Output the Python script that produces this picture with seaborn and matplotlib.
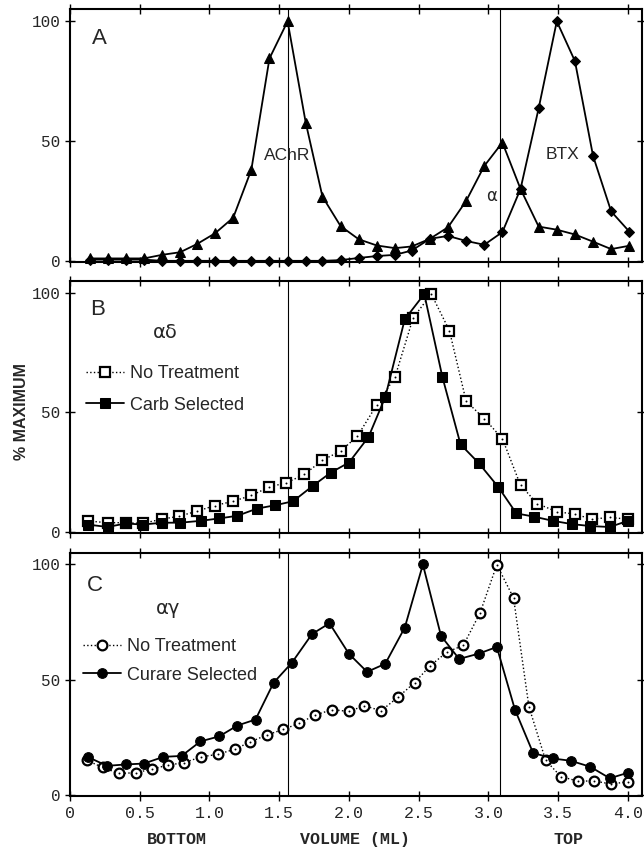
import seaborn as sns
import matplotlib.pyplot as plt

sns.set_style("white")
plt.rcParams['font.family'] = ['Liberation Sans', 'DejaVu Sans']

# panel A: AChR (triangles) and BTX (diamonds)
x_a = [0.14, 0.27, 0.40, 0.53, 0.66, 0.79, 0.91, 1.04, 1.17, 1.30, 1.43, 1.56, 1.69, 1.81, 1.94, 2.07,
       2.20, 2.33, 2.45, 2.58, 2.71, 2.84, 2.97, 3.10, 3.23, 3.36, 3.49, 3.62, 3.75, 3.88, 4.01]
achr = [1, 1, 1, 1, 2.5, 3.6, 7, 11.5, 18, 38, 84.5, 100, 57.7, 26.8, 14.5, 9,
        6.4, 5.3, 6, 9.2, 14, 25, 39.6, 49.4, 30, 14.3, 13, 11, 8, 4.9, 6.3]
btx = [0.5, 0.5, 0.5, 0.5, 0, 0, 0, 0, 0, 0, 0, 0, 0, 0, 0.3, 1.2,
       2, 2.5, 4.3, 9.2, 10.4, 8.3, 6.7, 12, 30, 63.7, 100, 83.4, 43.8, 20.6, 12.2]

# panel B: alpha-delta
x_b_nt = [0.13, 0.27, 0.40, 0.52, 0.66, 0.78, 0.91, 1.04, 1.17, 1.30, 1.43, 1.55, 1.68, 1.81, 1.94, 2.06,
          2.20, 2.33, 2.46, 2.59, 2.72, 2.84, 2.97, 3.10, 3.23, 3.35, 3.49, 3.62, 3.74, 3.87, 4.00]
b_nt = [4.5, 3.8, 3.8, 3.5, 5.3, 6.5, 8.6, 11, 12.8, 15.2, 18.8, 20.5, 24, 30, 33.8, 40,
        53.2, 64.8, 89.6, 99.6, 84.3, 54.7, 47.4, 39, 19.5, 11.8, 8.4, 7.4, 5.3, 6, 5.3]
x_b_carb = [0.13, 0.27, 0.40, 0.52, 0.66, 0.79, 0.94, 1.07, 1.20, 1.34, 1.47, 1.60, 1.74, 1.87, 2.00,
            2.14, 2.26, 2.40, 2.54, 2.67, 2.80, 2.93, 3.07, 3.20, 3.33, 3.46, 3.60, 3.73, 3.87, 4.00]
b_carb = [3, 2, 3.5, 3, 3.8, 3.8, 4.6, 5.6, 6.7, 9.7, 11.1, 12.8, 19.2, 24.8, 29,
          39.7, 56.4, 89, 99.6, 64.8, 36.6, 28.8, 18.8, 7.7, 6.3, 4.6, 3.2, 2.4, 2, 4.6]

# panel C: alpha-gamma
x_c_nt = [0.12, 0.235, 0.35, 0.47, 0.59, 0.70, 0.82, 0.94, 1.06, 1.18, 1.29, 1.41, 1.53, 1.64, 1.76, 1.88, 2.00,
          2.11, 2.23, 2.35, 2.47, 2.58, 2.70, 2.82, 2.94, 3.06, 3.18, 3.29, 3.41, 3.52, 3.64, 3.76, 3.88, 4.00]
c_nt = [15, 11.9, 9.3, 9.6, 11.2, 12.9, 14, 16.5, 17.6, 19.8, 22.9, 26, 28.4, 31, 34.7, 37, 36.2,
        38.7, 36.5, 42.3, 48.7, 55.9, 61.9, 64.9, 79, 99.9, 85.5, 38.3, 15, 7.9, 6, 6, 4.7, 5.7]
x_c_cur = [0.126, 0.265, 0.40, 0.53, 0.67, 0.80, 0.935, 1.07, 1.20, 1.33, 1.46, 1.59, 1.735, 1.86, 2.00,
           2.13, 2.26, 2.40, 2.53, 2.66, 2.79, 2.93, 3.06, 3.19, 3.32, 3.46, 3.59, 3.73, 3.87, 4.00]
c_cur = [16.5, 12.6, 13.2, 13.6, 16.5, 16.9, 23.2, 25.4, 30.1, 32.7, 48.7, 57.3, 69.8, 74.5, 61.2,
         53.4, 56.9, 72.6, 100, 69, 59, 61.3, 64.2, 37, 18.2, 15.8, 14.8, 12.2, 7.2, 9.6]

marker_lines = [1.56, 3.08]
x_ticks = [0, 0.5, 1.0, 1.5, 2.0, 2.5, 3.0, 3.5, 4.0]
x_ticklabels = ['0', '0.5', '1.0', '1.5', '2.0', '2.5', '3.0', '3.5', '4.0']
y_ticks = [0, 50, 100]

fig = plt.figure(figsize=(6.44, 8.48), dpi=100)
axA = fig.add_axes([0.1087, 0.691, 0.888, 0.298])
axB = fig.add_axes([0.1087, 0.3715, 0.888, 0.297])
axC = fig.add_axes([0.1087, 0.0613, 0.888, 0.2866])

mono = 'Liberation Mono'

for ax in (axA, axB, axC):
    ax.set_xlim(0, 4.1)
    ax.set_ylim(-0.5, 105)
    for xl in marker_lines:
        ax.axvline(xl, color='k', lw=0.8, zorder=1)
    ax.set_xticks(x_ticks)
    ax.set_yticks(y_ticks)
    ax.tick_params(axis='both', direction='inout', length=7, width=1.0, color='k',
                   top=True, bottom=True, left=True, right=True, labelsize=11.5)
    for lab in ax.get_yticklabels():
        lab.set_fontfamily(mono)
    for s in ax.spines.values():
        s.set_color('k')
        s.set_linewidth(1.5)

for ax in (axA, axB):
    ax.set_xticklabels([])
axC.set_xticklabels(x_ticklabels, fontfamily=mono, fontsize=12)

solid = dict(color='k', lw=1.3, markeredgecolor='k', clip_on=False)
open_kw = dict(color='k', lw=1.0, ls=':', markerfacecolor='white', markeredgecolor='k',
               markeredgewidth=1.6, clip_on=False)

# A
sns.lineplot(x=x_a, y=achr, ax=axA, marker='^', markersize=6.5, **solid)
sns.lineplot(x=x_a, y=btx, ax=axA, marker='D', markersize=5, **solid)
axA.text(0.21, 93, 'A', fontsize=16, ha='center', va='center')
axA.text(1.56, 44, 'AChR', fontsize=12.5, ha='center', va='center')
axA.text(3.53, 44.6, 'BTX', fontsize=12.5, ha='center', va='center')
axA.text(3.02, 27, 'α', fontsize=12, ha='center', va='center', family='DejaVu Sans')

# B
sns.lineplot(x=x_b_nt, y=b_nt, ax=axB, marker='s', markersize=7, label='No Treatment', **open_kw)
sns.lineplot(x=x_b_carb, y=b_carb, ax=axB, marker='s', markersize=7, label='Carb Selected', **solid)
sns.scatterplot(x=x_b_nt, y=b_nt, ax=axB, s=2, color='k', linewidth=0, legend=False, zorder=5)
axB.text(0.2, 93, 'B', fontsize=16, ha='center', va='center')
axB.text(0.68, 83.6, 'αδ', fontsize=14, ha='center', va='center', family='DejaVu Sans')
axB.legend(loc='upper left', bbox_to_anchor=(0.015, 0.695), frameon=False, fontsize=13,
           handlelength=2.1, handletextpad=0.35, labelspacing=0.8, borderaxespad=0)

# C
sns.lineplot(x=x_c_nt, y=c_nt, ax=axC, marker='o', markersize=7, label='No Treatment', **open_kw)
sns.lineplot(x=x_c_cur, y=c_cur, ax=axC, marker='o', markersize=7, label='Curare Selected', **solid)
sns.scatterplot(x=x_c_nt, y=c_nt, ax=axC, s=2, color='k', linewidth=0, legend=False, zorder=5)
axC.text(0.18, 91, 'C', fontsize=16, ha='center', va='center')
axC.text(0.7, 81, 'αγ', fontsize=14, ha='center', va='center', family='DejaVu Sans')
axC.legend(loc='upper left', bbox_to_anchor=(0.01, 0.68), frameon=False, fontsize=13,
           handlelength=2.1, handletextpad=0.35, labelspacing=0.65, borderaxespad=0)

for ax in (axA, axB, axC):
    ax.set_xlabel('')
    ax.set_ylabel('')

fig.text(0.033, 0.515, '% MAXIMUM', rotation=90, fontsize=11.5, fontweight='bold',
         ha='center', va='center')
fig.text(0.275, 0.0106, 'BOTTOM', fontsize=12, fontweight='bold', fontfamily=mono, ha='center', va='center')
fig.text(0.551, 0.0106, 'VOLUME (ML)', fontsize=12, fontweight='bold', fontfamily=mono, ha='center', va='center')
fig.text(0.882, 0.0106, 'TOP', fontsize=12, fontweight='bold', fontfamily=mono, ha='center', va='center')

fig.savefig('out.png', dpi=100)
